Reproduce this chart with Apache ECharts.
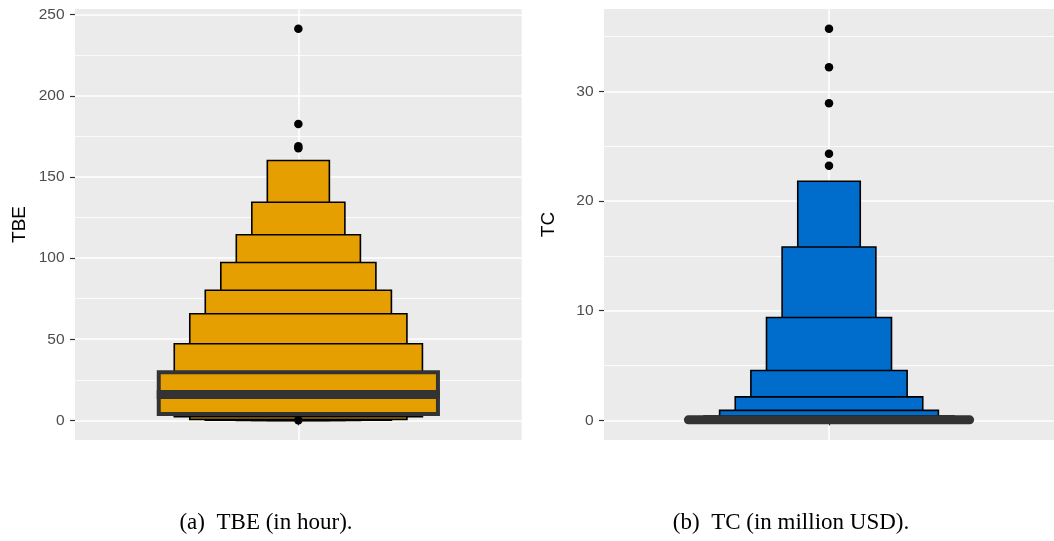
<!DOCTYPE html>
<html><head><meta charset="utf-8">
<script src="https://cdn.jsdelivr.net/npm/echarts@6/dist/echarts.min.js"></script>
<style>html,body{margin:0;padding:0;background:#fff}#c{width:1054px;height:541px}</style>
</head><body><div id="c"></div>
<script>
// ---- TBE (in hour) ----
const tbeLevels = [2, 3, 4, 5, 6, 7, 8];
const tbeUpper = [160.1, 134.4, 114.4, 97.3, 80.2, 65.7, 47.2];
const tbeLower = [0.0, 0.0, 0.0, 0.05, 0.15, 0.6, 2.3];
const tbeIQR = [3.95, 29.6];
const tbeMedian = [16.0];
const tbeOutliers = [241.4, 182.6, 168.9, 167.7, 0];
const tbeTicks = [0, 50, 100, 150, 200, 250];
const tbeMinorTicks = [25, 75, 125, 175, 225];
// ---- TC (in million USD) ----
const tcLevels = [2, 3, 4, 5, 6, 7, 8];
const tcUpper = [21.8, 15.8, 9.38, 4.54, 2.14, 0.91, 0.4];
const tcLower = [0.0, 0.0, 0.01, 0.02, 0.04, 0.06, 0.08];
const tcIQR = [0.01, 0.2];
const tcMedian = [0.05];
const tcOutliers = [35.7, 32.2, 28.9, 24.3, 23.2];
const tcTicks = [0, 10, 20, 30];
const tcMinorTicks = [5, 15, 25, 35];
const iqrLevel = 9;
const captions = ['(a)  TBE (in hour).', '(b)  TC (in million USD).'];

const SANS = 'Liberation Sans, Arial, Helvetica, sans-serif';
const SERIF = 'Liberation Serif, Times New Roman, serif';
const chart = echarts.init(document.getElementById('c'), null, {renderer: 'canvas'});

function boxSeries(ax, levels, lower, upper, fill) {
  return {
    type: 'custom', xAxisIndex: ax, yAxisIndex: ax * 2, z: 3,
    data: levels.map((k, i) => [1, lower[i], upper[i], k]),
    renderItem: (params, api) => {
      const hw = api.value(3) / 24;
      const p1 = api.coord([api.value(0) - hw, api.value(2)]);
      const p2 = api.coord([api.value(0) + hw, api.value(1)]);
      return {type: 'rect', shape: {x: p1[0], y: p1[1], width: p2[0] - p1[0], height: p2[1] - p1[1]},
        style: {fill: fill, stroke: '#000', lineWidth: 1.6}};
    }
  };
}
function iqrSeries(ax, iqr, med, fill, cap) {
  return {
    type: 'custom', xAxisIndex: ax, yAxisIndex: ax * 2, z: 4,
    data: [[1, iqr[0], iqr[1], med[0]]],
    renderItem: (params, api) => {
      const hw = iqrLevel / 24;
      const x = api.value(0);
      const p1 = api.coord([x - hw, api.value(2)]);
      const p2 = api.coord([x + hw, api.value(1)]);
      const m1 = api.coord([x - hw, api.value(3)]);
      const m2 = api.coord([x + hw, api.value(3)]);
      const ext = cap === 'round' ? 0 : 2;
      return {type: 'group', children: [
        {type: 'rect', shape: {x: p1[0], y: p1[1], width: p2[0] - p1[0], height: p2[1] - p1[1]},
          style: {fill: fill, stroke: '#333333', lineWidth: 4}},
        {type: 'line', shape: {x1: m1[0] - ext, y1: m1[1], x2: m2[0] + ext, y2: m2[1]},
          style: {stroke: '#333333', lineWidth: 9, lineCap: cap}}
      ]};
    }
  };
}
function pointSeries(ax, vals) {
  return {type: 'scatter', xAxisIndex: ax, yAxisIndex: ax * 2, z: 5, symbolSize: 8.5,
    itemStyle: {color: '#000', opacity: 1}, data: vals.map(v => [1, v])};
}
function xAxis(g) {
  return {type: 'value', gridIndex: g, min: 0.4, max: 1.6,
    axisLine: {show: false},
    axisTick: {show: true, customValues: [1], length: 5, lineStyle: {color: '#333', width: 1.2}},
    axisLabel: {show: false, customValues: [1]},
    splitLine: {show: true, lineStyle: {color: '#fff', width: 1.6}}};
}
function yMajor(g, min, max, ticks, name, gap) {
  return {type: 'value', gridIndex: g, min: min, max: max, position: 'left',
    name: name, nameLocation: 'middle', nameGap: gap,
    nameTextStyle: {color: '#000', fontSize: 19, fontFamily: SANS},
    axisLine: {show: false},
    axisTick: {show: true, customValues: ticks, length: 5, lineStyle: {color: '#333', width: 1.2}},
    axisLabel: {show: true, customValues: ticks, margin: 10.5, color: '#4D4D4D', fontSize: 15.5, fontFamily: SANS},
    splitLine: {show: true, lineStyle: {color: '#fff', width: 1.6}}};
}
function yMinor(g, min, max, ticks) {
  return {type: 'value', gridIndex: g, min: min, max: max, position: 'left',
    axisLine: {show: false},
    axisTick: {show: false, customValues: ticks},
    axisLabel: {show: false, customValues: ticks},
    splitLine: {show: true, lineStyle: {color: '#fff', width: 0.8}}};
}

chart.setOption({
  animation: false,
  backgroundColor: '#fff',
  grid: [
    {left: 75, top: 9, width: 446.7, height: 431, show: true, backgroundColor: '#EBEBEB', borderWidth: 0},
    {left: 604, top: 9, width: 456.7, height: 431, show: true, backgroundColor: '#EBEBEB', borderWidth: 0}
  ],
  xAxis: [xAxis(0), xAxis(1)],
  yAxis: [
    yMajor(0, -12.1, 253.5, tbeTicks, 'TBE', 46),
    yMinor(0, -12.1, 253.5, tbeMinorTicks),
    yMajor(1, -1.79, 37.5, tcTicks, 'TC', 46),
    yMinor(1, -1.79, 37.5, tcMinorTicks)
  ],
  graphic: [
    {type: 'text', style: {text: captions[0], fontFamily: SERIF, fontSize: 23, fill: '#000', x: 266, y: 523, align: 'center', verticalAlign: 'middle'}},
    {type: 'text', style: {text: captions[1], fontFamily: SERIF, fontSize: 23, fill: '#000', x: 791, y: 523, align: 'center', verticalAlign: 'middle'}}
  ],
  series: [
    boxSeries(0, tbeLevels, tbeLower, tbeUpper, '#E69F00'),
    iqrSeries(0, tbeIQR, tbeMedian, '#E69F00', 'butt'),
    pointSeries(0, tbeOutliers),
    boxSeries(1, tcLevels, tcLower, tcUpper, '#006DCD'),
    iqrSeries(1, tcIQR, tcMedian, '#006DCD', 'round'),
    pointSeries(1, tcOutliers)
  ]
});
</script></body></html>
